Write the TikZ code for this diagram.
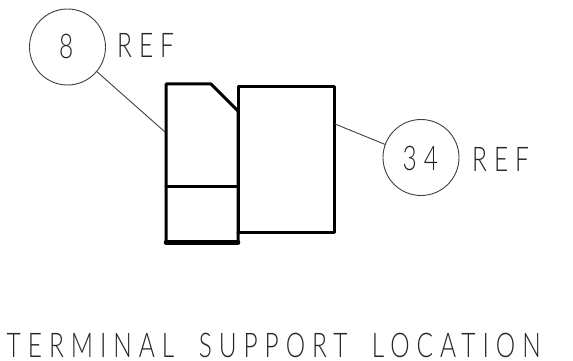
\documentclass[tikz,border=0pt]{standalone}
\usepackage{fontspec}
\newfontfamily\cadfont{Lato Light}[FakeStretch=0.72,LetterSpace=20.5,WordSpace=1.8]
\tikzset{
  x=1pt,y=-1pt,
  thinline/.style={draw=black!75,line width=0.9pt},
  thickline/.style={draw=black,line width=3pt,line cap=round,line join=round},
  balloon/.style={circle,thinline,minimum size=76pt,inner sep=0pt},
  lbl/.style={inner sep=0pt,text=black!85,anchor=base west,font=\cadfont\fontsize{34}{36}\selectfont}
}
\begin{document}
\begin{tikzpicture}
\useasboundingbox (0,0) rectangle (573,361);
\fill[white] (0,0) rectangle (573,361);
\node[balloon] (b8) at (67.5,47) {};
\node[balloon] (b34) at (421,157.5) {};
\node[lbl] (t8) at (59,59) {8};
\node[lbl] (t34) at (402.5,170) {34};
\node[lbl] (r1) at (117,58) {REF};
\node[lbl] (r2) at (472,171) {REF};
\node[lbl] (title) at (6.5,357) {TERMINAL SUPPORT LOCATION};
\coordinate (p1) at (166,84);
\coordinate (p2) at (211,84);
\coordinate (p3) at (238,111);
\coordinate (p4) at (238,242);
\coordinate (p5) at (166,242);
\coordinate (m1) at (166,186.5);
\coordinate (m2) at (238,186.5);
\coordinate (q1) at (238,86.5);
\coordinate (q2) at (334,86.5);
\coordinate (q3) at (334,232);
\coordinate (q4) at (238,232);
\coordinate (e1) at (165,132);
\coordinate (e2) at (335,124);
\draw[thickline] (p1) -- (p2) -- (p3) -- (p4) -- (p5) -- cycle;
\draw[thickline,line width=2.8pt] (m1) -- (m2);
\draw[thickline] (q4) -- (q1) -- (q2) -- (q3) -- (q4);
\draw[black,line width=4.5pt,line cap=round] ([yshift=-0.5pt]p5) -- ([yshift=-0.5pt]p4);
\draw[thinline] (b8.-40) -- (e1);
\draw[thinline] (e2) -- (b34.160);
\end{tikzpicture}
\end{document}
